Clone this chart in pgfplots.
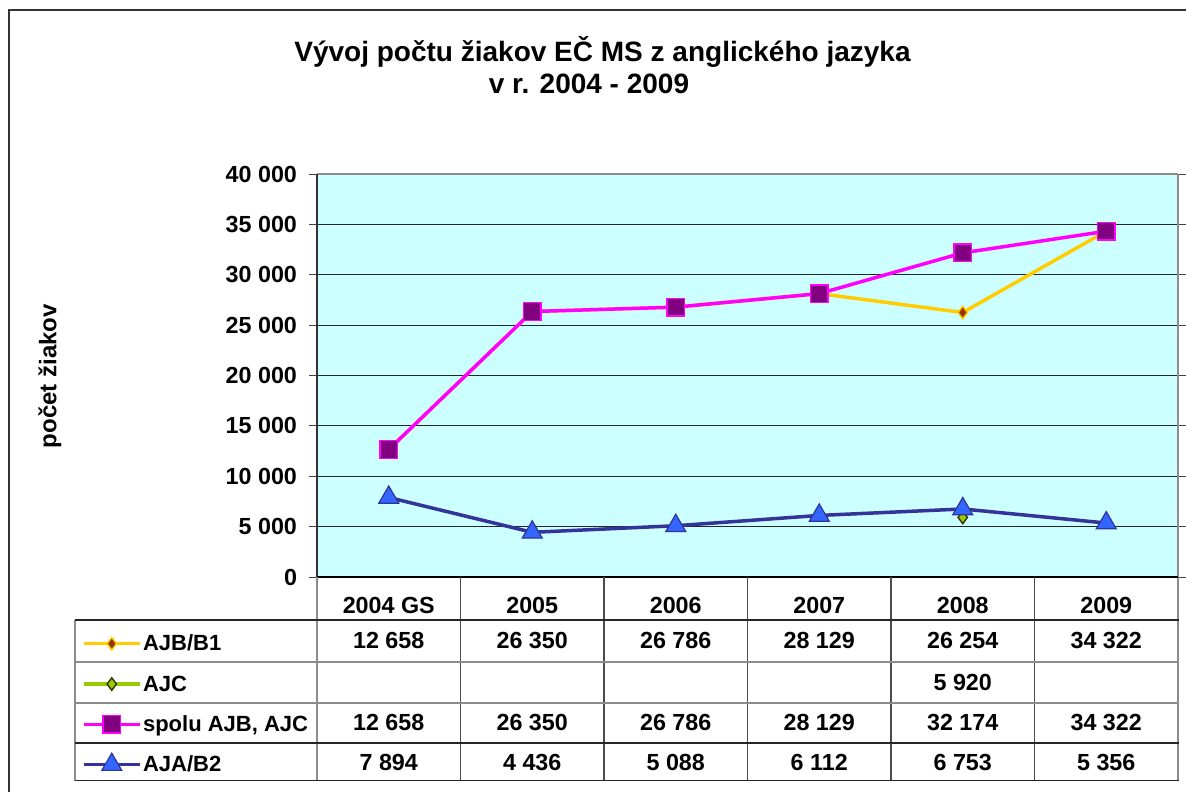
\documentclass[border=0pt]{standalone}
\usepackage{pgfplots}
\pgfplotsset{compat=1.18}
\usepackage{fontspec}
\setmainfont{Liberation Sans}
\definecolor{bgcyan}{HTML}{CCFFFF}
\definecolor{cyel}{HTML}{FFCC00}
\definecolor{cbrown}{HTML}{993300}
\definecolor{cgreen}{HTML}{99CC00}
\definecolor{colive}{HTML}{333300}
\definecolor{cmag}{HTML}{FF00FF}
\definecolor{cpurp}{HTML}{800080}
\definecolor{cnavy}{HTML}{333399}
\definecolor{cblue}{HTML}{3366FF}
\definecolor{cgrid}{HTML}{262626}
\definecolor{cframe}{HTML}{8C8C8C}
\definecolor{cdark}{HTML}{333333}
\newcommand{\tfont}{\fontsize{23.3bp}{27bp}\selectfont\bfseries}
\newcommand{\lfont}{\fontsize{22bp}{26bp}\selectfont\bfseries}
\begin{document}
\begin{tikzpicture}[x=1bp,y=1bp]
\path[use as bounding box] (0,0) rectangle (1186,-792);
% outer chart border
\draw[cdark, line width=2bp] (9,-800) -- (9,-10) -- (1190,-10);
% title
\node[font=\fontsize{28bp}{32bp}\selectfont\bfseries, anchor=base] at (602.5,-61.7) {Vývoj počtu žiakov EČ MS z anglického jazyka};
\node[font=\fontsize{28bp}{32bp}\selectfont\bfseries, anchor=base] at (589,-93.3) {v r. 2004 - 2009};
\begin{axis}[
  at={(317bp,-577bp)}, anchor=south west,
  scale only axis, width=861bp, height=403bp,
  xmin=-0.5, xmax=5.5, ymin=0, ymax=40000,
  xtick={0,...,5},
  xticklabels={2004 GS,2005,2006,2007,2008,2009},
  x tick label style={anchor=base, yshift=-28.7bp, font=\tfont},
  x tick style={draw=none},
  ytick={0,5000,...,40000},
  y tick label style={font=\tfont, xshift=-8.5bp},
  /pgf/number format/1000 sep={\ },
  /pgf/number format/assume math mode=true,
  scaled y ticks=false,
  tick align=outside,
  major tick length=8bp,
  y tick style={draw=black!75, line width=1bp},
  ymajorgrids,
  grid style={draw=cgrid, line width=0.9bp},
  axis line style={draw=none},
  axis background/.style={fill=bgcyan},
  clip=false,
  ylabel={počet žiakov},
  ylabel style={at={(axis description cs:-0.3101,0.4988)}, anchor=center, rotate=0, font=\fontsize{24bp}{28bp}\selectfont\bfseries},
  legend cell align=left,
  legend style={at={(axis description cs:-0.2729,-0.1333)}, anchor=north west, draw=none, fill=none, inner sep=0pt, outer sep=0pt, row sep=14.3bp, column sep=1.5bp, font=\lfont, nodes={inner sep=0pt, text height=20bp, text depth=6bp}},
  legend image code/.code={\draw[mark repeat=2,mark phase=2,#1] plot coordinates {(0bp,0bp) (28bp,0bp) (56bp,0bp)};},
]
\addplot[cyel, line width=3.5bp, mark=diamond*, mark size=6.3bp, mark options={solid, fill=cbrown, draw=cyel, line width=1.4bp}] coordinates {(0,12658)(1,26350)(2,26786)(3,28129)(4,26254)(5,34322)};
\addlegendentry{AJB/B1}
\addplot[cgreen, line width=3.5bp, mark=diamond*, mark size=6.3bp, mark options={solid, fill=cgreen, draw=colive, line width=1.4bp}] coordinates {(4,5920)};
\addlegendentry{AJC}
\addplot[cmag, line width=3.5bp, mark=square*, mark size=8.8bp, mark options={solid, fill=cpurp, draw=cmag, line width=1.5bp}] coordinates {(0,12658)(1,26350)(2,26786)(3,28129)(4,32174)(5,34322)};
\addlegendentry{spolu AJB, AJC}
\addplot[cnavy, line width=3.5bp, mark=triangle*, mark size=11.5bp, mark options={solid, fill=cblue, draw=cnavy, line width=1.2bp}] coordinates {(0,7894)(1,4436)(2,5088)(3,6112)(4,6753)(5,5356)};
\addlegendentry{AJA/B2}
\end{axis}
% plot area frame
\draw[cframe, line width=2bp] (317,-174) -- (1178,-174);
\draw[cframe, line width=2.5bp] (1178,-174) -- (1178,-780);
\draw[cdark, line width=2bp] (317,-174) -- (317,-577);
\draw[black, line width=2bp] (317,-577) -- (1178,-577);
% data table grid
\draw[cframe, line width=2bp] (75,-620) -- (75,-781);
\draw[cframe, line width=1.5bp] (317,-577) -- (317,-781);
\foreach \xx in {460.5,604,747.5,891,1034.5}{\draw[black!70, line width=1.2bp] (\xx,-577) -- (\xx,-781);}
\draw[black!85, line width=1.2bp] (75,-620) -- (1179,-620);
\draw[black!45, line width=1.2bp] (75,-662) -- (1179,-662);
\draw[black!45, line width=1.2bp] (75,-703) -- (1179,-703);
\draw[black!85, line width=1.2bp] (75,-743) -- (1179,-743);
\draw[black!85, line width=1.2bp] (75,-780.5) -- (1179,-780.5);
% data table values
\begin{scope}[every node/.style={font=\tfont, anchor=base}]
\node at (388.75,-648) {12 658}; \node at (532.25,-648) {26 350}; \node at (675.75,-648) {26 786};
\node at (819.25,-648) {28 129}; \node at (962.75,-648) {26 254}; \node at (1106.25,-648) {34 322};
\node at (962.75,-690) {5 920};
\node at (388.75,-730) {12 658}; \node at (532.25,-730) {26 350}; \node at (675.75,-730) {26 786};
\node at (819.25,-730) {28 129}; \node at (962.75,-730) {32 174}; \node at (1106.25,-730) {34 322};
\node at (388.75,-770) {7 894}; \node at (532.25,-770) {4 436}; \node at (675.75,-770) {5 088};
\node at (819.25,-770) {6 112}; \node at (962.75,-770) {6 753}; \node at (1106.25,-770) {5 356};
\end{scope}
\end{tikzpicture}
\end{document}
